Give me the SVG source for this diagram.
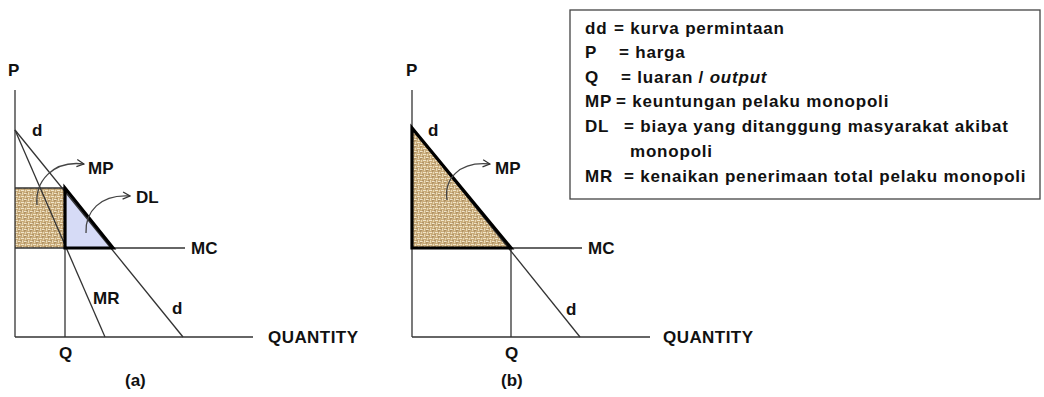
<svg xmlns="http://www.w3.org/2000/svg" width="1044" height="397" viewBox="0 0 1044 397">
<defs>
<pattern id="burlap" width="6" height="6" patternUnits="userSpaceOnUse">
<rect width="6" height="6" fill="#c8aa78"/>
<path d="M0,1.5h3M3,4.5h3" stroke="#f0e4ca" stroke-width="1.2"/>
<path d="M4.5,0v3M1.5,3v3" stroke="#e8d8b4" stroke-width="1.2"/>
<path d="M0,3h2M3,0v1.5" stroke="#8c6c42" stroke-width="0.8"/>
</pattern>
<marker id="arr" viewBox="0 0 10 10" refX="9" refY="5" markerWidth="9" markerHeight="9" orient="auto" markerUnits="userSpaceOnUse">
<path d="M1,1 L9,5 L1,9" fill="none" stroke="#333" stroke-width="1.4"/>
</marker>
</defs>
<style>
.t{font-family:"Liberation Sans",Arial,sans-serif;font-weight:bold;font-size:17px;fill:#111}
.lg{font-family:"Liberation Sans",Arial,sans-serif;font-weight:bold;font-size:17px;fill:#111;letter-spacing:0.8px}
.ln{stroke:#333;stroke-width:1.3;fill:none}
.thick{stroke:#000;stroke-width:3.2;fill:none;stroke-linejoin:miter}
.cur{stroke:#444;stroke-width:1.3;fill:none;marker-end:url(#arr)}
</style>
<rect width="1044" height="397" fill="#fff"/>

<g id="chart-a">
<rect x="15" y="188" width="50" height="60" fill="url(#burlap)"/>
<polygon points="65,188 65,248 113,248" fill="#d6dbf6"/>
<line class="ln" x1="15" y1="90" x2="15" y2="337"/>
<line class="ln" x1="15" y1="337" x2="253" y2="337"/>
<line class="ln" x1="15" y1="188" x2="65" y2="188"/>
<line class="ln" x1="15" y1="248" x2="185" y2="248"/>
<line class="ln" x1="65" y1="248" x2="65" y2="337"/>
<line class="ln" x1="15" y1="130" x2="183" y2="337"/>
<line class="ln" x1="15" y1="130" x2="105" y2="337"/>
<polygon class="thick" points="65,188 65,248 113,248"/>
<text class="t" x="8" y="76">P</text>
<text class="t" x="32" y="136">d</text>
<text class="t" x="88" y="174">MP</text>
<text class="t" x="136" y="203">DL</text>
<text class="t" x="191" y="254">MC</text>
<text class="t" x="93" y="304">MR</text>
<text class="t" x="172" y="314">d</text>
<text class="t" x="268" y="343" textLength="90">QUANTITY</text>
<text class="t" x="59" y="359">Q</text>
<text class="t" x="125" y="386">(a)</text>
</g>

<g id="chart-b">
<polygon points="412,128 412,248 511,248" fill="url(#burlap)"/>
<line class="ln" x1="412" y1="90" x2="412" y2="337"/>
<line class="ln" x1="412" y1="337" x2="650" y2="337"/>
<line class="ln" x1="412" y1="248" x2="582" y2="248"/>
<line class="ln" x1="511" y1="248" x2="511" y2="337"/>
<line class="ln" x1="412" y1="128" x2="580" y2="337"/>
<polygon class="thick" points="412,128 412,248 511,248"/>
<text class="t" x="406" y="76">P</text>
<text class="t" x="428" y="136">d</text>
<text class="t" x="495" y="174">MP</text>
<text class="t" x="588" y="254">MC</text>
<text class="t" x="566" y="315">d</text>
<text class="t" x="663" y="343" textLength="90">QUANTITY</text>
<text class="t" x="505" y="359">Q</text>
<text class="t" x="501" y="386">(b)</text>
</g>

<g id="connectors">
<path class="cur" d="M37,205 C35,182 52,160 84,164"/>
<path class="cur" d="M86,233 C85,212 100,194 130,196"/>
<path class="cur" d="M447,200 C444,180 458,161 490,164"/>
</g>

<g id="legend">
<rect x="570" y="10" width="470" height="189" fill="#fff" stroke="#444" stroke-width="1.3"/>
<text class="lg" x="585" y="34">dd</text><text class="lg" x="614" y="34">= kurva permintaan</text>
<text class="lg" x="585" y="58">P</text><text class="lg" x="619" y="58">= harga</text>
<text class="lg" x="585" y="83">Q</text><text class="lg" x="621" y="83">= luaran / <tspan font-style="italic">output</tspan></text>
<text class="lg" x="585" y="107">MP</text><text class="lg" x="616" y="107">= keuntungan pelaku monopoli</text>
<text class="lg" x="585" y="132">DL</text><text class="lg" x="624" y="132">= biaya yang ditanggung masyarakat akibat</text>
<text class="lg" x="630" y="157">monopoli</text>
<text class="lg" x="585" y="182">MR</text><text class="lg" x="624" y="182">= kenaikan penerimaan total pelaku monopoli</text>
</g>
</svg>
